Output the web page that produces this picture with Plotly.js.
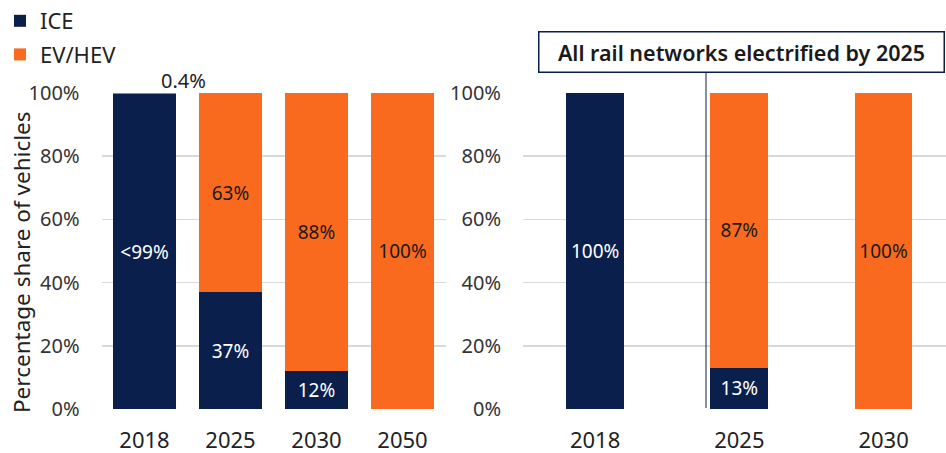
<!DOCTYPE html>
<html>
<head>
<meta charset="utf-8">
<script src="https://cdn.plot.ly/plotly-3.0.1.min.js"></script>
<style>html,body{margin:0;padding:0;background:#fff}#chart{width:946px;height:453px}</style>
</head>
<body>
<div id="chart"></div>
<script>
// Left panel: road vehicles
const roadYears = ['2018', '2025', '2030', '2050'];
const roadICE = [99.6, 37, 12, 0];
const roadEV = [0.4, 63, 88, 100];
const roadICELabels = ['<99%', '37%', '12%', ''];
const roadEVLabels = ['', '63%', '88%', '100%'];
const roadSmallLabel = '0.4%';

// Right panel: rail
const railYears = ['2018', '2025', '2030'];
const railICE = [100, 13, 0];
const railEV = [0, 87, 100];
const railICELabels = ['100%', '13%', ''];
const railEVLabels = ['', '87%', '100%'];

const yTicks = [0, 20, 40, 60, 80, 100];
const yTickText = ['0%', '20%', '40%', '60%', '80%', '100%'];
const seriesNames = ['ICE', 'EV/HEV'];
const noteText = 'All rail networks electrified by 2025';
const yTitle = 'Percentage share of vehicles';

const NAVY = '#0b1f4c';
const ORANGE = '#f96a1f';
const FONT = 'Noto Sans, Open Sans, sans-serif';

const W = 946, H = 453;
const yBot = (H - 409) / H, yTop = (H - 93) / H;

const traces = [
  {type: 'bar', x: roadYears, y: roadICE, name: seriesNames[0], legendgroup: 'ice',
   marker: {color: NAVY}, text: roadICELabels, textposition: 'inside', insidetextanchor: 'middle',
   textfont: {color: '#ffffff', size: 19, family: FONT}, xaxis: 'x', yaxis: 'y', width: 0.73,
   hoverinfo: 'skip'},
  {type: 'bar', x: roadYears, y: roadEV, name: seriesNames[1], legendgroup: 'ev',
   marker: {color: ORANGE}, text: roadEVLabels, textposition: 'inside', insidetextanchor: 'middle',
   textfont: {color: '#1a1a1a', size: 19, family: FONT}, xaxis: 'x', yaxis: 'y', width: 0.73,
   hoverinfo: 'skip'},
  {type: 'bar', x: railYears, y: railICE, name: seriesNames[0], legendgroup: 'ice', showlegend: false,
   marker: {color: NAVY}, text: railICELabels, textposition: 'inside', insidetextanchor: 'middle',
   textfont: {color: '#ffffff', size: 19, family: FONT}, xaxis: 'x2', yaxis: 'y2', width: 0.4,
   hoverinfo: 'skip'},
  {type: 'bar', x: railYears, y: railEV, name: seriesNames[1], legendgroup: 'ev', showlegend: false,
   marker: {color: ORANGE}, text: railEVLabels, textposition: 'inside', insidetextanchor: 'middle',
   textfont: {color: '#1a1a1a', size: 19, family: FONT}, xaxis: 'x2', yaxis: 'y2', width: 0.4,
   hoverinfo: 'skip'}
];

const yaxisBase = {
  range: [0, 100], tickvals: yTicks, ticktext: yTickText, showgrid: true, gridcolor: '#d9d9d9',
  gridwidth: 1.5, zeroline: false, showline: false, ticks: 'outside', ticklen: 17,
  tickcolor: 'rgba(0,0,0,0)', tickfont: {size: 20, color: '#333333', family: FONT},
  domain: [yBot, yTop], fixedrange: true
};
const xaxisBase = {
  type: 'category', showgrid: false, zeroline: false, showline: false, ticks: 'outside',
  ticklen: 12, tickcolor: 'rgba(0,0,0,0)', tickfont: {size: 22, color: '#222222', family: FONT},
  fixedrange: true
};

const layout = {
  width: W, height: H, margin: {l: 0, r: 0, t: 0, b: 0},
  paper_bgcolor: '#ffffff', plot_bgcolor: '#ffffff',
  barmode: 'stack', bargap: 0.27,
  font: {family: FONT, color: '#222222'},
  showlegend: true,
  legend: {x: 0, y: 1, xanchor: 'left', yanchor: 'top', traceorder: 'grouped', tracegroupgap: 2,
           font: {size: 22, color: '#222222', family: FONT}, bgcolor: 'rgba(0,0,0,0)', itemwidth: 30},
  xaxis: Object.assign({}, xaxisBase, {domain: [101.5 / W, 445.5 / W], anchor: 'y', range: [-0.5, 3.5]}),
  yaxis: Object.assign({}, yaxisBase, {anchor: 'x'}),
  xaxis2: Object.assign({}, xaxisBase, {domain: [523 / W, 1], anchor: 'y2', range: [-0.5, 2.433]}),
  yaxis2: Object.assign({}, yaxisBase, {anchor: 'x2'}),
  shapes: [
    {type: 'line', xref: 'paper', yref: 'paper', x0: 706 / W, x1: 706 / W,
     y0: (H - 408) / H, y1: (H - 73) / H, line: {color: NAVY, width: 1}}
  ],
  annotations: [
    {xref: 'paper', yref: 'paper', x: 183 / W, y: (H - 80) / H, text: roadSmallLabel,
     showarrow: false, xanchor: 'center', yanchor: 'middle',
     font: {size: 20, color: '#222222', family: FONT}},
    {xref: 'paper', yref: 'paper', x: 21 / W, y: (H - 263) / H, text: yTitle, textangle: -90,
     xanchor: 'center', yanchor: 'middle',
     showarrow: false, font: {size: 22.5, color: '#222222', family: FONT}},
    {xref: 'paper', yref: 'paper', x: 741.5 / W, y: (H - 52) / H, text: noteText,
     xanchor: 'center', yanchor: 'middle',
     showarrow: false, bgcolor: '#ffffff', bordercolor: NAVY, borderwidth: 1.5,
     width: 402, height: 37, borderpad: 1,
     font: {size: 21.5, color: '#1a1a1a', family: FONT, weight: 600}}
  ]
};

Plotly.newPlot('chart', traces, layout, {displayModeBar: false, staticPlot: true});
</script>
</body>
</html>
